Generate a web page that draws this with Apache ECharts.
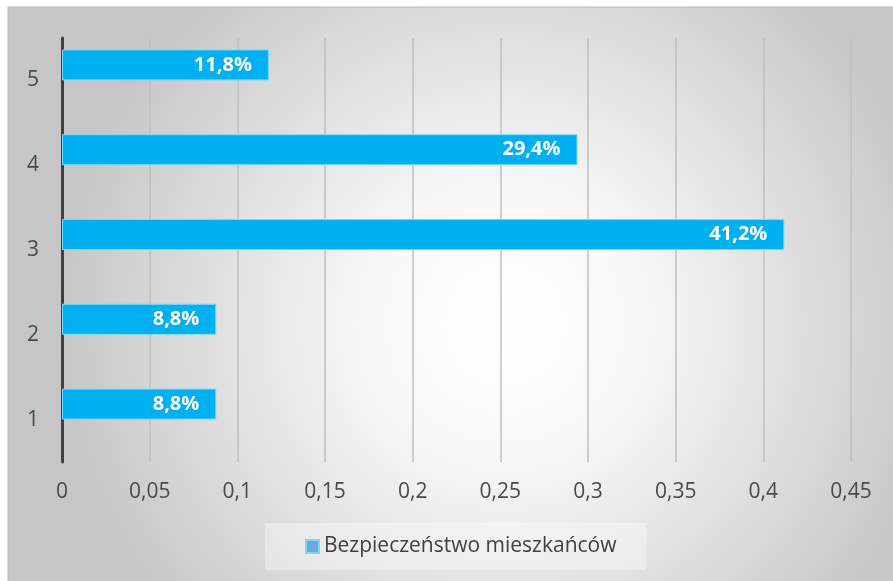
<!DOCTYPE html>
<html>
<head>
<meta charset="utf-8">
<script src="https://cdn.jsdelivr.net/npm/echarts@6/dist/echarts.min.js"></script>
<style>
html,body{margin:0;padding:0;background:#ffffff;}
#chart{width:893px;height:581px;}
</style>
</head>
<body>
<div id="chart"></div>
<script>
const categories = ['1', '2', '3', '4', '5'];
const values = [0.088, 0.088, 0.412, 0.294, 0.118];
const valueLabels = ['8,8%', '8,8%', '41,2%', '29,4%', '11,8%'];
const tickLabels = ['0', '0,05', '0,1', '0,15', '0,2', '0,25', '0,3', '0,35', '0,4', '0,45'];
const seriesName = 'Bezpieczeństwo mieszkańców';

const FONT = '"Open Sans", "Noto Sans", sans-serif';
const chart = echarts.init(document.getElementById('chart'), null, {renderer: 'canvas'});
chart.setOption({
  animation: false,
  textStyle: {fontFamily: FONT},
  graphic: [{
    type: 'rect',
    z: -10,
    silent: true,
    shape: {x: 8, y: 7, width: 886, height: 576},
    style: {
      fill: {
        type: 'radial', x: 0.56, y: 0.55, r: 0.78,
        colorStops: [
          {offset: 0, color: '#ffffff'},
          {offset: 0.3, color: '#f8f8f8'},
          {offset: 1, color: '#c6c6c6'}
        ]
      },
      stroke: '#b8b8b8',
      lineWidth: 1
    }
  }],
  grid: {left: 62, right: 42, top: 38, bottom: 119, containLabel: false},
  legend: {
    left: 265,
    top: 523,
    padding: [13, 30, 13, 40],
    backgroundColor: 'rgba(255,255,255,0.35)',
    icon: 'rect',
    itemWidth: 13,
    itemHeight: 13,
    itemGap: 6,
    textStyle: {fontFamily: FONT, fontSize: 21, color: '#404040'},
    data: [{name: seriesName, itemStyle: {color: '#6fa8dc'}}]
  },
  xAxis: {
    type: 'value',
    min: 0,
    max: 0.45,
    interval: 0.05,
    axisLine: {show: false},
    axisTick: {show: false},
    splitLine: {show: true, lineStyle: {color: '#bfbfbf', width: 1.5}},
    axisLabel: {
      color: '#4a4a4a',
      fontSize: 21,
      fontFamily: FONT,
      margin: 20,
      formatter: function (v, i) { return tickLabels[i]; }
    }
  },
  yAxis: {
    type: 'category',
    data: categories,
    axisLine: {show: true, lineStyle: {color: '#404040', width: 3}},
    axisTick: {show: false},
    axisLabel: {color: '#4a4a4a', fontSize: 21, fontFamily: FONT, margin: 23}
  },
  series: [{
    name: seriesName,
    type: 'bar',
    data: values,
    barWidth: 31,
    barGap: '0%',
    itemStyle: {color: '#00b0f0', borderColor: '#7fd7f7', borderWidth: 1},
    label: {
      show: true,
      position: 'insideRight',
      distance: 17,
      color: '#ffffff',
      fontWeight: 'bold',
      fontSize: 20,
      fontFamily: FONT,
      formatter: function (p) { return valueLabels[p.dataIndex]; }
    }
  }, {
    name: '_',
    type: 'bar',
    data: [null, null, null, null, null],
    barWidth: 31,
    barGap: '0%',
    silent: true
  }]
});
</script>
</body>
</html>
